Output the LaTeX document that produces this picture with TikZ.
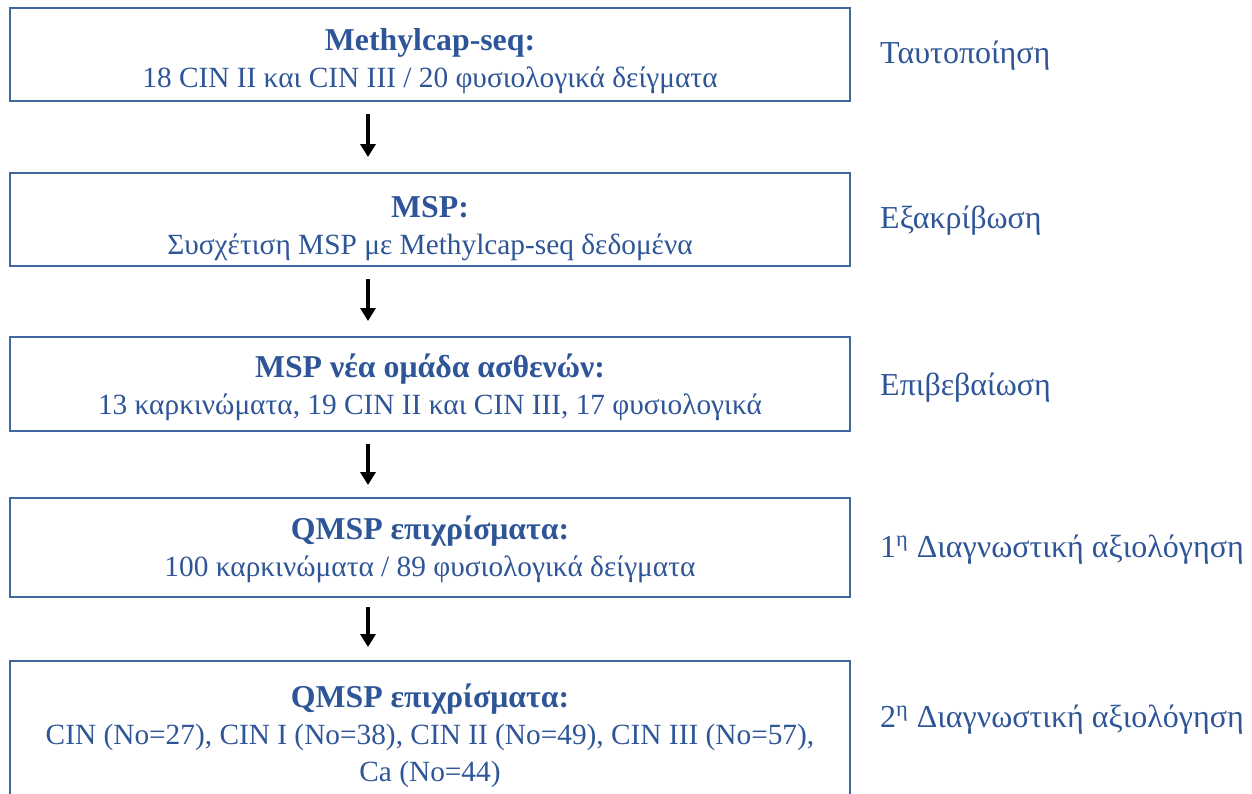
\documentclass[tikz,border=0pt]{standalone}
\usepackage{fontspec}
\setmainfont{Liberation Serif}
\usetikzlibrary{arrows.meta}
\definecolor{txtblue}{HTML}{2E5597}
\definecolor{boxblue}{HTML}{41689C}
% bold heading line, with a strut that sets how far the text sits down in its box
\newcommand{\stagehead}[2]{{\rule{0pt}{#1}\fontsize{18.1}{21}\selectfont\bfseries #2}}
\tikzset{
	stagebox/.style={draw=boxblue, line width=1.1pt, minimum width=16.8cm, inner sep=0pt,
		text=txtblue, align=center, font=\fontsize{16.7}{21}\selectfont},
	stagelabel/.style={text=txtblue, anchor=west, font=\fontsize{18.2}{21}\selectfont},
	flow/.style={-{Triangle[length=0.26cm, width=0.3cm]}, line width=2.2pt, black}
}

\begin{document}
\begin{tikzpicture}[x=0.02cm, y=-0.02cm]
		%%%%% START %%%%%
		
		\useasboundingbox (0, 0) rectangle (1252, 794);
		\coordinate (ax) at (368, 0);
		
		\node[stagebox, minimum height=1.86cm] (ident) at (430, 54.5)
			{\stagehead{20.4pt}{Methylcap-seq:}\\18 CIN II και CIN III / 20 φυσιολογικά δείγματα};
		\node[stagebox, minimum height=1.86cm] (verif) at (430, 219.5)
			{\stagehead{22.2pt}{MSP:}\\Συσχέτιση MSP με Methylcap-seq δεδομένα};
		\node[stagebox, minimum height=1.88cm] (confirm) at (430, 384)
			{\stagehead{17.6pt}{MSP νέα ομάδα ασθενών:}\\13 καρκινώματα, 19 CIN II και CIN III, 17 φυσιολογικά};
		\node[stagebox, minimum height=1.98cm] (diagA) at (430, 547.5)
			{\stagehead{15.8pt}{QMSP επιχρίσματα:}\\100 καρκινώματα / 89 φυσιολογικά δείγματα};
		\node[stagebox, minimum height=2.98cm] (diagB) at (430, 735.5)
			{\stagehead{0pt}{QMSP επιχρίσματα:}\\CIN (No=27), CIN I (No=38), CIN II (No=49), CIN III (No=57),\\Ca (No=44)};
		
		\draw[flow, shorten <=12*0.02cm, shorten >=15*0.02cm] (ident.south -| ax) -- (verif.north -| ax);
		\draw[flow, shorten <=12*0.02cm, shorten >=15*0.02cm] (verif.south -| ax) -- (confirm.north -| ax);
		\draw[flow, shorten <=12*0.02cm, shorten >=12*0.02cm] (confirm.south -| ax) -- (diagA.north -| ax);
		\draw[flow, shorten <=9*0.02cm, shorten >=13*0.02cm] (diagA.south -| ax) -- (diagB.north -| ax);
		
		\node[stagelabel] (lblA) at (874, 56) {Ταυτοποίηση};
		\node[stagelabel] (lblB) at (874, 221) {Εξακρίβωση};
		\node[stagelabel] (lblC) at (874, 388) {Επιβεβαίωση};
		\node[stagelabel] (lblD) at (874, 550) {1\textsuperscript{η} Διαγνωστική αξιολόγηση};
		\node[stagelabel] (lblE) at (874, 720) {2\textsuperscript{η} Διαγνωστική αξιολόγηση};
		
		%%%%% END %%%%%
\end{tikzpicture}
\end{document}
